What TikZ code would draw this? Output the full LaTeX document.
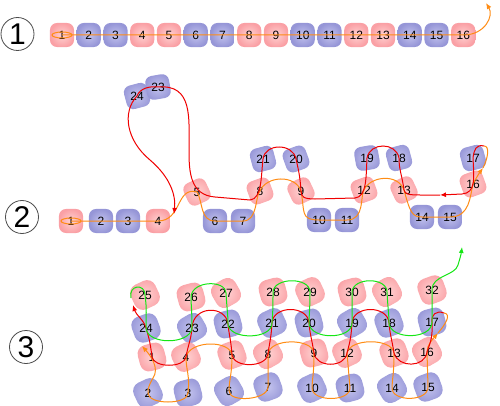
\documentclass[tikz,border=0pt]{standalone}
\usepackage{fontspec}
\setmainfont{Liberation Sans}
\usetikzlibrary{arrows.meta,shapes.geometric}
\definecolor{hin}{RGB}{255,210,210}
\definecolor{hout}{RGB}{250,160,165}
\definecolor{pin}{RGB}{195,195,238}
\definecolor{pout}{RGB}{150,150,215}
\definecolor{cOrange}{RGB}{255,140,20}
\definecolor{cRed}{RGB}{240,0,0}
\definecolor{cGreen}{RGB}{20,230,20}
\tikzset{
  res/.style={regular polygon, regular polygon sides=4, shape border rotate=0,
    rounded corners=7pt, minimum size=34pt, inner sep=0pt,
    inner color=#1in, outer color=#1out, font=\fontsize{12}{12}\selectfont},
  big/.style={minimum size=38pt, rounded corners=9pt},
  panel/.style={circle, draw=black!70, thick, minimum size=33pt, inner sep=0pt,
    font=\fontsize{30}{30}\selectfont},
  chainA/.style={draw=cOrange, line width=1pt},
  chainB/.style={draw=cRed, line width=1pt},
  chainC/.style={draw=cGreen, line width=1pt},
  tip/.style={-{Latex[length=6pt,width=5pt]}}
}
\begin{document}
\begin{tikzpicture}[x=1pt, y=-1pt]
  \useasboundingbox (0,0) rectangle (500,406);
  % panel labels
  \node[panel] (lab1) at (17.5,34) {1};
  \node[panel] (lab2) at (22,217) {2};
  \node[panel] (lab3) at (26,347) {3};

  % ---- 1: unfolded chain
  \foreach \i/\t in {1/h,2/p,3/p,4/h,5/h,6/p,7/p,8/h,9/h,10/p,11/p,12/h,13/h,14/p,15/p,16/h}
    \node[res=\t] (a\i) at ({62+(\i-1)*26.75},35) {\i};
  \coordinate (a-end) at (486,3);
  \draw[chainA] (a1) ellipse [x radius=10pt, y radius=3pt];
  \draw[chainA, tip] (a1.center) -- (a16.center)
    .. controls (485,35) and (494,16) .. (a-end);

  % ---- 2: half folded
  \node[res=p, shape border rotate=15] (b24) at (137,96) {24};
  \node[res=p, shape border rotate=10] (b23) at (158,87) {23};
  \foreach \i/\t/\x/\y/\r in {1/h/71/221/0, 2/p/101/221/0, 3/p/128/221/0, 4/h/158/221/0,
      5/h/197/192/25, 6/p/215/221/0, 7/p/243/221/0, 8/h/260/191/20, 9/h/301/191/25,
      10/p/319/220/0, 11/p/347/220/0, 12/h/364/190/20, 13/h/404/190/25,
      14/p/422/217/0, 15/p/450/217/0, 16/h/473/184/20, 17/p/473/158/15,
      18/p/399/158/15, 19/p/367/158/10, 20/p/296/159/20, 21/p/263/159/15}
    \node[res=\t, shape border rotate=\r] (b\i) at (\x,\y) {\i};
  \coordinate (b-arr) at (483,168);
  \coordinate (b-top) at (484,146);
  \coordinate (b-mid) at (440,195);
  \coordinate (b-end) at (174,214);
  \draw[chainA] (b1) ellipse [x radius=10pt, y radius=3pt];
  \draw[chainA, tip] (b1.center) -- (b4.center)
    .. controls (182,221) and (176,186) .. (b5.center)
    .. controls (203,202) and (200,221) .. (b6.center) -- (b7.center)
    .. controls (258,221) and (255,196) .. (b8.center)
    .. controls (266,176) and (295,174) .. (b9.center)
    .. controls (305,212) and (300,220) .. (b10.center) -- (b11.center)
    .. controls (365,220) and (360,196) .. (b12.center)
    .. controls (370,176) and (398,173) .. (b13.center)
    .. controls (410,212) and (412,217) .. (b14.center) -- (b15.center)
    .. controls (470,217) and (470,196) .. (b16.center)
    .. controls (476,178) and (480,172) .. (b-arr);
  \draw[chainA] (b-arr) .. controls (488,158) and (490,146) .. (b-top);
  \draw[chainB, tip] (b-top) .. controls (476,144) and (474,150) .. (b17.center)
    .. controls (474,178) and (476,193) .. (462,194) -- (b-mid);
  \draw[chainB, tip] (b-mid) -- (420,195)
    .. controls (408,195) and (405,194) .. (b13.center)
    .. controls (402,175) and (399,170) .. (b18.center)
    .. controls (396,142) and (370,142) .. (b19.center)
    .. controls (366,176) and (367,197) .. (355,198) -- (315,199)
    .. controls (304,199) and (301,197) .. (b9.center)
    .. controls (300,175) and (298,168) .. (b20.center)
    .. controls (293,143) and (265,143) .. (b21.center)
    .. controls (261,176) and (262,199) .. (250,200) -- (215,197)
    .. controls (190,195) and (189,172) .. (189,150)
    .. controls (189,118) and (193,84) .. (b23.center)
    .. controls (150,86) and (140,88) .. (b24.center)
    .. controls (122,112) and (126,140) .. (150,160)
    .. controls (170,177) and (176,195) .. (b-end);

  % ---- 3: fully folded
  \foreach \i/\t/\x/\y/\r in {25/h/145/295/25, 26/h/191/297/15, 27/h/226/293/30, 28/h/273/292/15,
      29/h/310/292/25, 30/h/352/292/15, 31/h/387/292/30, 32/h/432/290/20,
      24/p/146/328/20, 23/p/192/328/30, 22/p/228/324/15, 21/p/272/323/25,
      20/p/309/323/15, 19/p/352/323/30, 18/p/389/323/20, 17/p/432/322/15,
      1/h/152/357/15, 4/h/186/357/25, 5/h/232/355/20, 8/h/268/354/30,
      9/h/314/353/15, 12/h/347/353/25, 13/h/394/353/20, 16/h/427/352/30,
      2/p/148/393/25, 3/p/188/393/15, 6/p/229/391/30, 7/p/268/387/20,
      10/p/312/388/25, 11/p/350/388/15, 14/p/392/388/30, 15/p/428/387/20}
    \node[res=\t, big, shape border rotate=\r] (c\i) at (\x,\y) {\i};
  \coordinate (c-start) at (142,346);
  \coordinate (c-arr) at (438,333);
  \coordinate (c-top) at (444,313);
  \coordinate (c-rend) at (133,305);
  \coordinate (c-gstart) at (131,298);
  \coordinate (c-gend) at (462,247);
  \draw[chainA, {Latex[length=6pt,width=5pt]}-{Latex[length=6pt,width=5pt]}] (c-start)
    .. controls (150,355) and (160,368) .. (153,378)
    .. controls (149,385) and (148,388) .. (c2.center)
    .. controls (148,405) and (188,405) .. (c3.center)
    .. controls (190,375) and (186,370) .. (c4.center)
    .. controls (190,340) and (230,340) .. (c5.center)
    .. controls (232,375) and (229,380) .. (c6.center)
    .. controls (229,403) and (268,400) .. (c7.center) -- (c8.center)
    .. controls (270,338) and (312,338) .. (c9.center)
    .. controls (314,375) and (312,380) .. (c10.center)
    .. controls (312,402) and (350,402) .. (c11.center) -- (c12.center)
    .. controls (350,338) and (392,338) .. (c13.center)
    .. controls (394,375) and (392,380) .. (c14.center)
    .. controls (392,402) and (428,402) .. (c15.center) -- (c16.center)
    .. controls (427,345) and (432,340) .. (c-arr);
  \draw[chainA] (c-arr) .. controls (445,325) and (452,314) .. (c-top);
  \draw[chainB, tip] (c-top) .. controls (436,310) and (431,315) .. (c17.center)
    .. controls (433,340) and (429,345) .. (c16.center)
    .. controls (425,368) and (398,368) .. (c13.center)
    .. controls (392,340) and (390,335) .. (c18.center)
    .. controls (388,305) and (353,305) .. (c19.center)
    .. controls (351,340) and (349,345) .. (c12.center)
    .. controls (345,368) and (316,368) .. (c9.center)
    .. controls (312,340) and (310,335) .. (c20.center)
    .. controls (308,305) and (273,305) .. (c21.center)
    .. controls (271,340) and (269,345) .. (c8.center)
    .. controls (266,368) and (234,368) .. (c5.center)
    .. controls (231,340) and (229,335) .. (c22.center)
    .. controls (226,305) and (193,305) .. (c23.center)
    .. controls (191,340) and (188,345) .. (c4.center)
    .. controls (184,368) and (154,368) .. (c1.center)
    .. controls (150,340) and (148,335) .. (c24.center)
    .. controls (144,320) and (136,315) .. (c-rend);
  \draw[chainC, tip] (c-gstart) .. controls (128,285) and (145,283) .. (c25.center)
    .. controls (147,310) and (146,315) .. (c24.center)
    .. controls (147,345) and (190,345) .. (c23.center)
    .. controls (192,310) and (191,305) .. (c26.center)
    .. controls (192,280) and (226,280) .. (c27.center)
    .. controls (227,310) and (228,315) .. (c22.center)
    .. controls (229,340) and (272,340) .. (c21.center)
    .. controls (273,310) and (273,305) .. (c28.center)
    .. controls (274,277) and (310,277) .. (c29.center)
    .. controls (310,310) and (309,315) .. (c20.center)
    .. controls (310,340) and (352,340) .. (c19.center)
    .. controls (352,310) and (352,305) .. (c30.center)
    .. controls (353,277) and (387,277) .. (c31.center)
    .. controls (388,310) and (389,315) .. (c18.center)
    .. controls (390,340) and (432,340) .. (c17.center)
    .. controls (432,310) and (432,300) .. (c32.center)
    .. controls (432,275) and (455,276) .. (458,265)
    .. controls (460,258) and (461,255) .. (c-gend);
\end{tikzpicture}
\end{document}
